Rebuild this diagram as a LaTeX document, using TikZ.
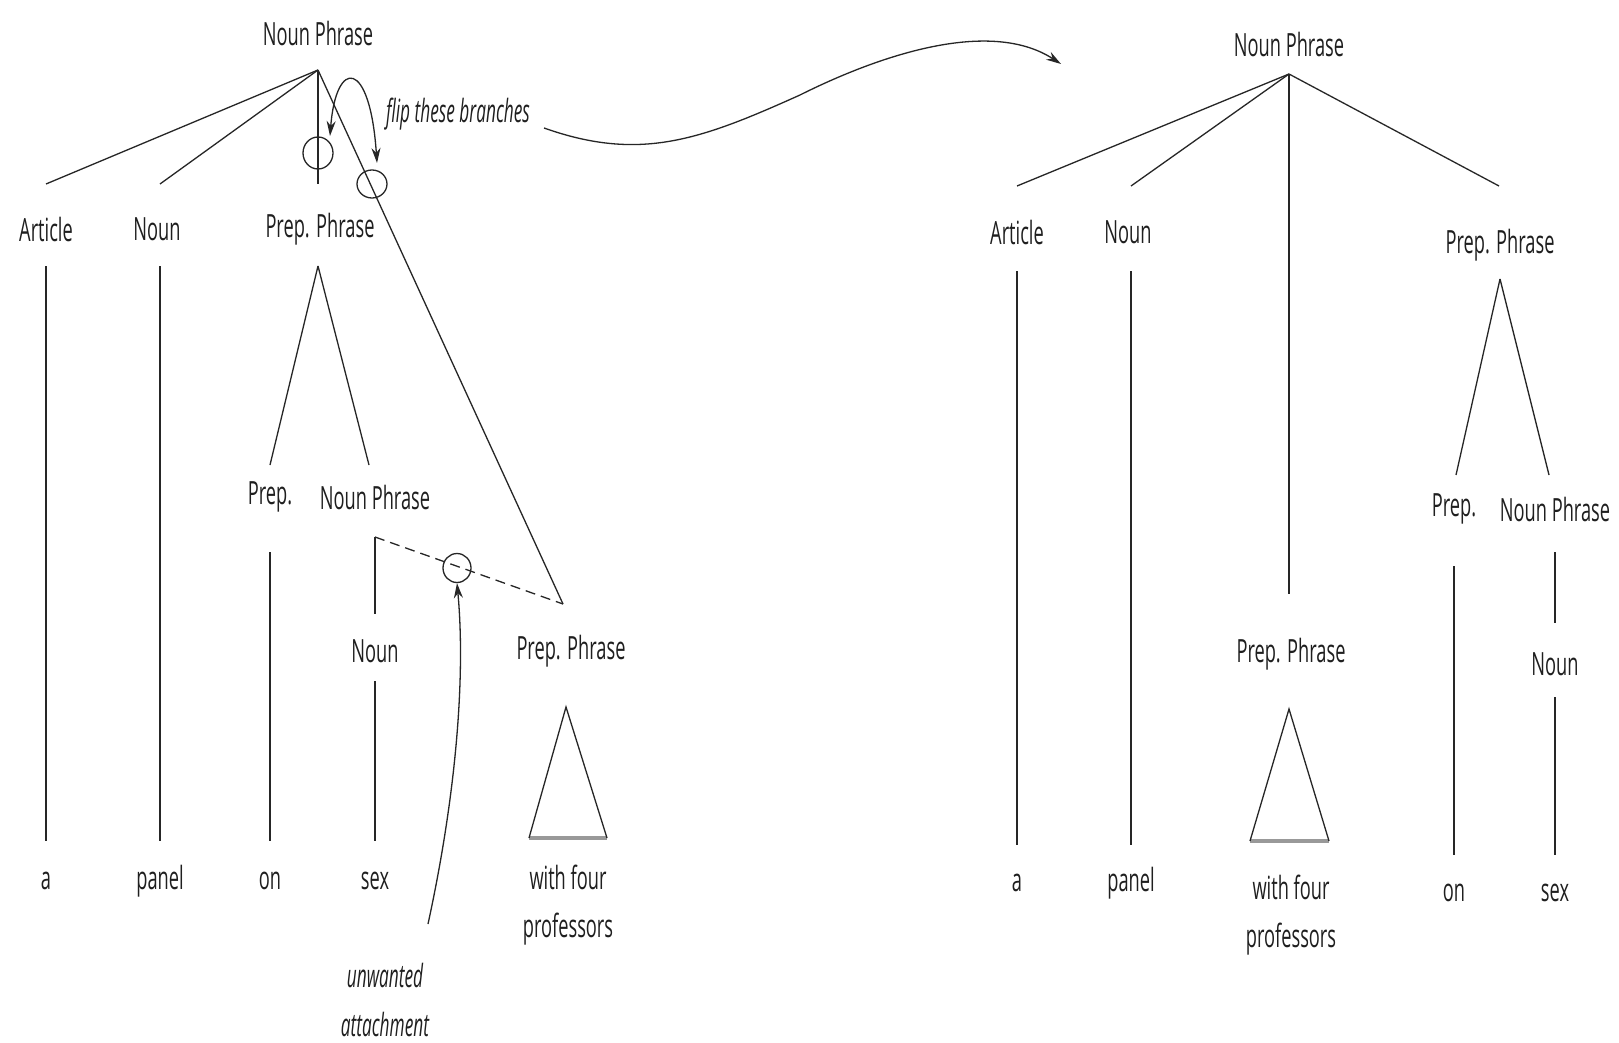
\documentclass[tikz,border=0pt]{standalone}
\usepackage{fontspec}
\setmainfont{Open Sans}[FakeStretch=0.57]
\newfontfamily\annfont{Open Sans}[FakeStretch=0.54]
\usetikzlibrary{arrows.meta,shapes.geometric}
\begin{document}
\begin{tikzpicture}[x=1pt,y=-1pt,
  lbl/.style={font=\fontsize{32}{48}\selectfont, inner sep=0pt, text=black!88, align=center},
  ann/.style={font=\annfont\itshape\fontsize{32}{49}\selectfont, inner sep=0pt, text=black!88, align=center},
  br/.style={line width=1.3pt, black!85},
  ring/.style={draw=black!85, line width=1.3pt, ellipse, inner sep=0pt},
  tribase/.style={line width=3.5pt, black!40},
  arr/.style={line width=1.3pt, black!85, -{Stealth[length=15pt,width=9pt]}},
  darr/.style={line width=1.3pt, black!85, {Stealth[length=15pt,width=9pt]}-{Stealth[length=15pt,width=9pt]}}
]
\useasboundingbox[fill=white] (0,0) rectangle (1619,1043);

% ---------- left tree ----------
\node[lbl] (lnp) at (318,34) {Noun Phrase};
\coordinate (lapex) at (318,70);
\coordinate (la1) at (46,184);
\coordinate (la2) at (160,184);
\coordinate (la3) at (318,184);
\coordinate (lpp2j) at (563,604);
\draw[br] (lapex) -- (la1);
\draw[br] (lapex) -- (la2);
\draw[br] (lapex) -- (la3);
\draw[br] (lapex) -- (lpp2j);

\node[lbl] (lart) at (46,229) {Article};
\node[lbl] (lnoun) at (157,229) {Noun};
\node[lbl] (lpp) at (320,229) {Prep. Phrase};

\node[lbl] (la) at (46,881) {a};
\node[lbl] (lpanel) at (160,881) {panel};
\coordinate (lartt) at (46,266);
\coordinate (lartb) at (46,841);
\coordinate (lnount) at (160,266);
\coordinate (lnounb) at (160,841);
\draw[br] (lartt) -- (lartb);
\draw[br] (lnount) -- (lnounb);

\coordinate (lppapex) at (318,266);
\coordinate (lppl) at (270,465);
\coordinate (lppr) at (369,465);
\draw[br] (lppapex) -- (lppl);
\draw[br] (lppapex) -- (lppr);

\node[lbl] (lprep) at (270,497) {Prep.};
\node[lbl] (lnp2) at (375,497) {Noun Phrase};
\node[lbl] (lon) at (270,881) {on};
\coordinate (lprept) at (270,552);
\coordinate (lprepb) at (270,841);
\draw[br] (lprept) -- (lprepb);

\coordinate (lnp2j) at (375,537);
\coordinate (lnp2b) at (375,614);
\draw[br] (lnp2j) -- (lnp2b);
\draw[br, dash pattern=on 10pt off 6pt] (lnp2j) -- (lpp2j);
\node[ring, minimum width=28pt, minimum height=29pt] (cunw) at (457,568) {};

\node[lbl] (lnoun2) at (375,651) {Noun};
\node[lbl] (lsex) at (375,881) {sex};
\coordinate (lnoun2t) at (375,681);
\coordinate (lnoun2b) at (375,841);
\draw[br] (lnoun2t) -- (lnoun2b);

\node[lbl] (lpp2) at (571,651) {Prep. Phrase};
\coordinate (ltria) at (566,707);
\coordinate (ltrib1) at (529,838);
\coordinate (ltrib2) at (607,838);
\draw[tribase] (ltrib1) -- (ltrib2);
\draw[br, line join=miter] (ltrib1) -- (ltria) -- (ltrib2);
\node[lbl] (lwith) at (568,905) {with four\\professors};

% circles and flip arrow
\node[ring, minimum width=30pt, minimum height=32pt] (c1) at (318,153) {};
\node[ring, minimum width=30pt, minimum height=28pt] (c2) at (372,184) {};
\coordinate (f1) at (330,136);
\coordinate (f2) at (377,163);
\draw[darr] (f1) .. controls (336,58) and (370,58) .. (f2);
\node[ann] (flip) at (458,114) {flip these branches};

% unwanted attachment
\node[ann] (unw) at (385,1000) {unwanted\\attachment};
\coordinate (ustart) at (428,924);
\draw[arr] (ustart) .. controls (455,800) and (466,680) .. (cunw.south);

% big arrow
\coordinate (bstart) at (544,128);
\coordinate (bend) at (1061,64);
\draw[arr] (bstart) .. controls (640,162) and (700,140) .. (800,95)
  .. controls (880,55) and (990,18) .. (bend);

% ---------- right tree ----------
\node[lbl] (rnp) at (1289,45) {Noun Phrase};
\coordinate (rapex) at (1289,74);
\coordinate (ra1) at (1017,186);
\coordinate (ra2) at (1131,186);
\coordinate (ra3) at (1289,594);
\coordinate (ra4) at (1499,186);
\draw[br] (rapex) -- (ra1);
\draw[br] (rapex) -- (ra2);
\draw[br] (rapex) -- (ra3);
\draw[br] (rapex) -- (ra4);

\node[lbl] (rart) at (1017,232) {Article};
\node[lbl] (rnoun) at (1128,232) {Noun};
\node[lbl] (rpp) at (1500,245) {Prep. Phrase};

\node[lbl] (ra) at (1017,883) {a};
\node[lbl] (rpanel) at (1131,883) {panel};
\coordinate (rartt) at (1017,271);
\coordinate (rartb) at (1017,845);
\coordinate (rnount) at (1131,271);
\coordinate (rnounb) at (1131,845);
\draw[br] (rartt) -- (rartb);
\draw[br] (rnount) -- (rnounb);

\node[lbl] (rpp2) at (1291,654) {Prep. Phrase};
\coordinate (rtria) at (1289,709);
\coordinate (rtrib1) at (1250,841);
\coordinate (rtrib2) at (1329,841);
\draw[tribase] (rtrib1) -- (rtrib2);
\draw[br, line join=miter] (rtrib1) -- (rtria) -- (rtrib2);
\node[lbl] (rwith) at (1291,915) {with four\\professors};

\coordinate (rppapex) at (1500,279);
\coordinate (rppl) at (1456,475);
\coordinate (rppr) at (1549,475);
\draw[br] (rppapex) -- (rppl);
\draw[br] (rppapex) -- (rppr);

\node[lbl] (rprep) at (1454,509) {Prep.};
\node[lbl] (rnp2) at (1555,509) {Noun Phrase};
\node[lbl] (ron) at (1454,893) {on};
\coordinate (rprept) at (1454,566);
\coordinate (rprepb) at (1454,855);
\draw[br] (rprept) -- (rprepb);

\coordinate (rnp2t) at (1555,552);
\coordinate (rnp2b) at (1555,623);
\draw[br] (rnp2t) -- (rnp2b);
\node[lbl] (rnoun2) at (1555,664) {Noun};
\node[lbl] (rsex) at (1555,893) {sex};
\coordinate (rnoun2t) at (1555,697);
\coordinate (rnoun2b) at (1555,855);
\draw[br] (rnoun2t) -- (rnoun2b);
\end{tikzpicture}
\end{document}
